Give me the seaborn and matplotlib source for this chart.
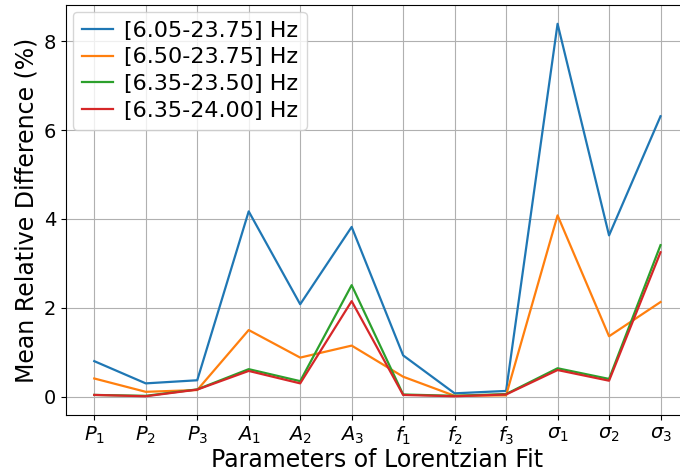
import matplotlib
matplotlib.use("Agg")
import matplotlib.pyplot as plt
import seaborn as sns
import pandas as pd

params = [r"$P_1$", r"$P_2$", r"$P_3$", r"$A_1$", r"$A_2$", r"$A_3$",
          r"$f_1$", r"$f_2$", r"$f_3$", r"$\sigma_1$", r"$\sigma_2$", r"$\sigma_3$"]
series_names = ["[6.05-23.75] Hz", "[6.50-23.75] Hz", "[6.35-23.50] Hz", "[6.35-24.00] Hz"]
s1 = [0.80, 0.30, 0.37, 4.17, 2.08, 3.82, 0.93, 0.076, 0.13, 8.39, 3.63, 6.31]
s2 = [0.41, 0.11, 0.15, 1.50, 0.88, 1.15, 0.45, 0.02, 0.03, 4.08, 1.36, 2.13]
s3 = [0.04, 0.02, 0.165, 0.62, 0.35, 2.51, 0.05, 0.02, 0.06, 0.64, 0.40, 3.41]
s4 = [0.04, 0.01, 0.16, 0.58, 0.30, 2.15, 0.04, 0.01, 0.05, 0.60, 0.36, 3.25]

rows = []
for name, vals in zip(series_names, [s1, s2, s3, s4]):
    for i, v in enumerate(vals):
        rows.append({"x": i, "y": v, "series": name})
df = pd.DataFrame(rows)

fig = plt.figure(figsize=(6.8, 4.72), dpi=100)
ax = fig.add_axes([0.097, 0.121, 0.916, 0.868])
sns.lineplot(data=df, x="x", y="y", hue="series", palette=sns.color_palette("tab10", 4),
             linewidth=1.6, ax=ax)
ax.set_xticks(range(len(params)))
ax.set_xticklabels(params, fontsize=14)
ax.set_yticks([0, 2, 4, 6, 8])
ax.tick_params(axis="y", labelsize=14)
ax.set_xlabel("Parameters of Lorentzian Fit", fontsize=17, labelpad=1)
ax.set_ylabel("Mean Relative Difference (%)", fontsize=17)
ax.grid(True, color="#b0b0b0", linewidth=0.8)
ax.margins(x=0.05, y=0.05)
ax.set_xlim(-0.55, 11.55)
leg = ax.legend(loc="upper left", fontsize=16, handlelength=1.4, handletextpad=0.5,
                labelspacing=0.3, borderaxespad=0.3)
fig.savefig("out.png", dpi=100)
